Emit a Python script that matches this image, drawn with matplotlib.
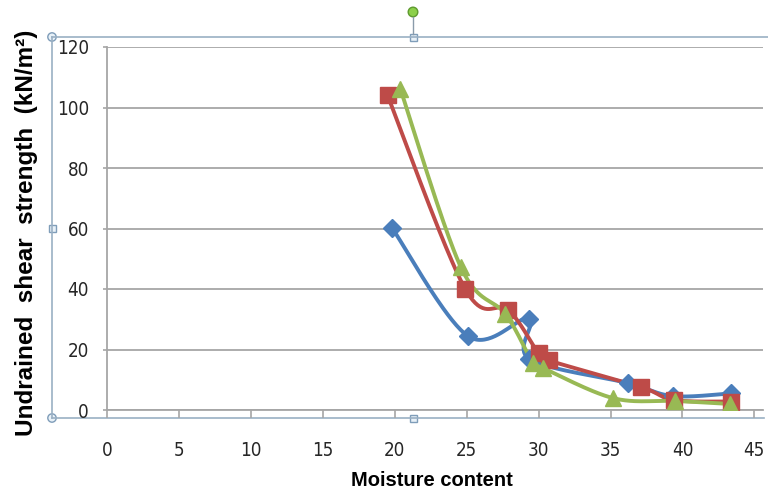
import numpy as np
import matplotlib.pyplot as plt
from matplotlib.patches import Circle, Rectangle

# moisture content (%) vs undrained shear strength (kN/m2), three sample series
blue_x = [19.8, 25.1, 29.3, 29.35, 36.2, 39.35, 43.4]
blue_y = [60.3, 24.4, 30.2, 16.9, 8.9, 4.6, 5.5]
red_x = [19.5, 24.9, 27.9, 30.0, 30.7, 37.1, 39.4, 43.4]
red_y = [104.0, 40.0, 33.0, 18.7, 16.4, 7.6, 3.3, 2.8]
green_x = [20.4, 24.6, 27.7, 29.6, 30.3, 35.2, 39.5, 43.3]
green_y = [106.0, 47.2, 31.7, 15.6, 13.9, 3.9, 3.0, 2.0]

x_ticks = [0, 5, 10, 15, 20, 25, 30, 35, 40, 45]
y_ticks = [0, 20, 40, 60, 80, 100, 120]

BLUE = "#4A7EBB"
RED = "#BE4B48"
GREEN = "#98B954"


def smooth(x, y, n=40):
    # Catmull-Rom style bezier through every point (spreadsheet "smoothed line")
    p = np.column_stack([x, y]).astype(float)
    p_ext = np.vstack([p[0], p, p[-1]])
    out = []
    t = np.linspace(0, 1, n)[:, None]
    for i in range(len(p) - 1):
        p0, p1, p2, p3 = p_ext[i], p_ext[i + 1], p_ext[i + 2], p_ext[i + 3]
        c1 = p1 + (p2 - p0) / 6.0
        c2 = p2 - (p3 - p1) / 6.0
        seg = ((1 - t) ** 3) * p1 + 3 * ((1 - t) ** 2) * t * c1 + 3 * (1 - t) * t ** 2 * c2 + t ** 3 * p2
        out.append(seg if i == 0 else seg[1:])
    out = np.vstack(out)
    return out[:, 0], out[:, 1]


W, H = 768, 497
fig = plt.figure(figsize=(W / 100, H / 100), dpi=100)
fig.patch.set_facecolor("white")

# frame and handles of the selected chart object, in pixel coordinates
over = fig.add_axes([0, 0, 1, 1], zorder=0)
over.set_xlim(0, W)
over.set_ylim(H, 0)
over.axis("off")
frame_c = "#9AB0C4"
over.plot([52, 768], [37, 37], color=frame_c, lw=1.2)
over.plot([52, 52], [37, 418], color=frame_c, lw=1.2)
over.plot([52, 764], [418, 418], color=frame_c, lw=1.2)
over.plot([413, 413], [17, 34], color="#8A9BAA", lw=1.0)
for cx, cy in [(52, 37), (52, 418)]:
    over.add_patch(Circle((cx, cy), 4.2, facecolor="#E8F1F8", edgecolor="#7F9DB9", lw=1.0))
for cx, cy in [(52, 228), (413, 37), (413, 418)]:
    over.add_patch(Rectangle((cx - 3.5, cy - 3.5), 7, 7, facecolor="#E8F1F8", edgecolor="#7F9DB9", lw=1.0))
over.add_patch(Circle((413, 12), 4.8, facecolor="#8CD04A", edgecolor="#5E9A2E", lw=1.0))

ax = fig.add_axes([107 / W, (H - 410) / H, (763 - 107) / W, (410 - 47) / H], zorder=1)
ax.patch.set_alpha(0)

for xs, ys, col, mk, ms in [
    (blue_x, blue_y, BLUE, "D", 9),
    (red_x, red_y, RED, "s", 11),
    (green_x, green_y, GREEN, "^", 11),
]:
    sx, sy = smooth(xs, ys)
    ax.plot(sx, sy, color=col, lw=2.8, solid_capstyle="round", zorder=3)
    ax.plot(xs, ys, linestyle="none", marker=mk, color=col, markersize=ms,
            markeredgecolor=col, zorder=4)

ax.set_xlim(0, 45.6)
ax.set_ylim(0, 120)
ax.set_xticks(x_ticks)
ax.set_yticks(y_ticks)
ax.yaxis.grid(True, color="#A6A6A6", lw=1.3)
ax.set_axisbelow(True)

for s in ["top", "right"]:
    ax.spines[s].set_visible(False)
ax.spines["left"].set_color("#A6A6A6")
ax.spines["bottom"].set_color("#A6A6A6")
ax.spines["left"].set_linewidth(1.3)
ax.spines["bottom"].set_linewidth(1.3)

ax.tick_params(axis="y", direction="out", length=3, width=1.2, color="#A6A6A6", pad=10,
               labelsize=13.5, labelcolor="#262626")
ax.tick_params(axis="x", direction="out", length=6, width=1.2, color="#A6A6A6", pad=16,
               labelsize=13.5, labelcolor="#262626")
for lab in ax.get_xticklabels() + ax.get_yticklabels():
    lab.set_family("DejaVu Sans")
    lab.set_stretch("condensed")

fig.text(432 / W, 1 - 481 / H, "Moisture content", ha="center", va="center",
         fontsize=14.5, fontweight="bold", family="Liberation Sans")
fig.text(27 / W, 1 - 233 / H, "Undrained  shear  strength  (kN/m²)", ha="center", va="center",
         rotation=90, fontsize=17.5, fontweight="bold", family="Liberation Sans")

fig.savefig("out.png", dpi=100)
